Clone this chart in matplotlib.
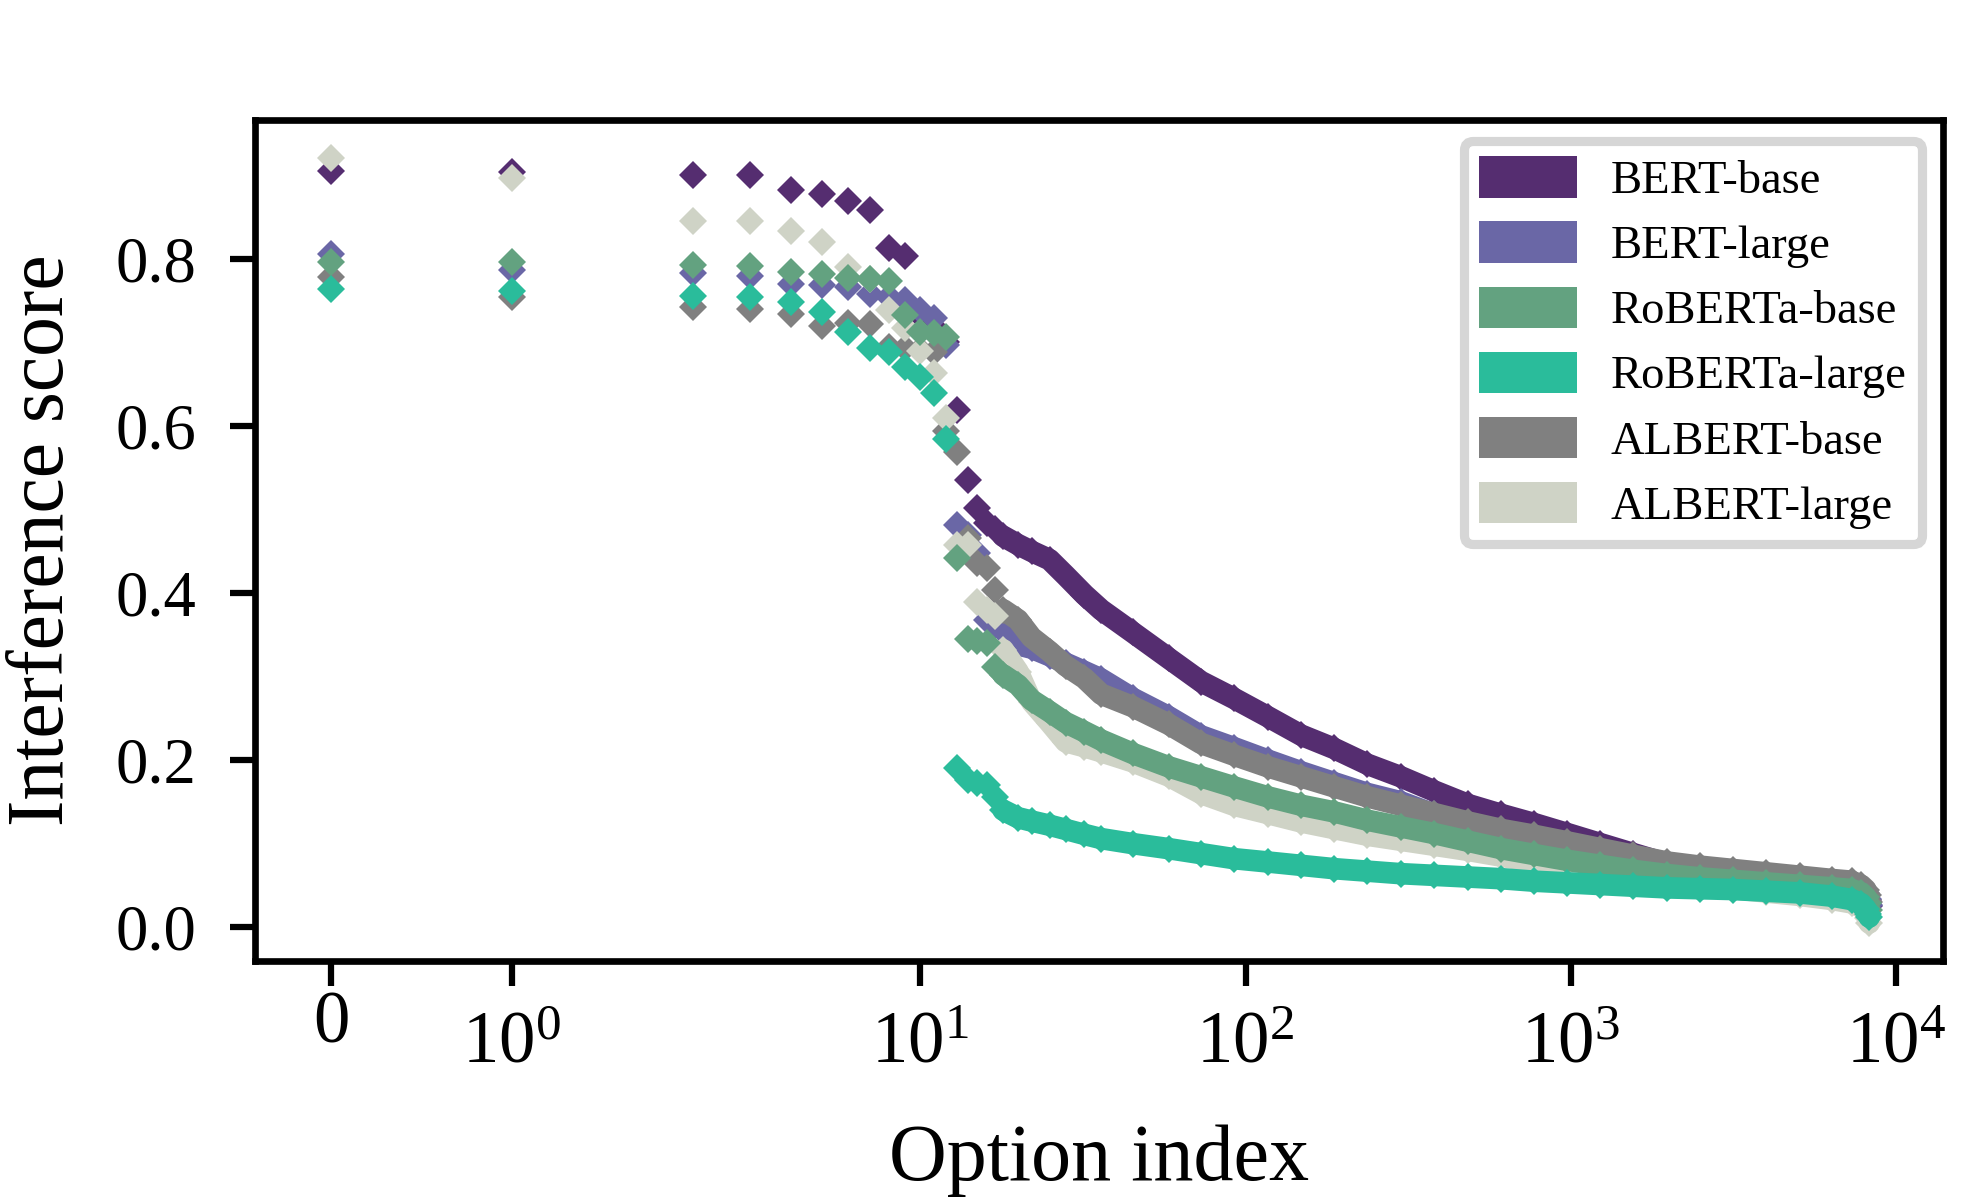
import matplotlib
matplotlib.use('Agg')
import matplotlib.pyplot as plt
from matplotlib.patches import Patch
from matplotlib.ticker import NullLocator, FixedLocator, FixedFormatter
from matplotlib.transforms import ScaledTranslation

plt.rcParams['font.family'] = ['Liberation Serif', 'DejaVu Serif']
plt.rcParams['mathtext.fontset'] = 'stix'

# ---------------- data ----------------
option_index = list(range(19)) + [20, 22, 25, 28, 32, 36, 45, 58, 73, 92, 117, 148, 187,
                                  237, 300, 380, 481, 610, 770, 975, 1230, 1555, 1970,
                                  2490, 3150, 3980, 5040, 6360, 7280, 7800, 8050, 8185, 8250]

models = ['BERT-base', 'BERT-large', 'RoBERTa-base', 'RoBERTa-large', 'ALBERT-base', 'ALBERT-large']
colors = ['#552d70', '#6a67a6', '#63a280', '#2abc9b', '#808080', '#cfd3c6']

bert_base = [0.905, 0.904, 0.900, 0.900, 0.883, 0.878, 0.869, 0.859, 0.813, 0.803,
             0.733, 0.718, 0.700, 0.619, 0.535, 0.502, 0.484, 0.477, 0.468,
             0.458, 0.450, 0.440, 0.421, 0.398, 0.380, 0.353, 0.322, 0.294, 0.274,
             0.252, 0.230, 0.214, 0.195, 0.180, 0.163, 0.147, 0.135, 0.124, 0.112,
             0.100, 0.088, 0.076, 0.070, 0.066, 0.062, 0.058, 0.054, 0.051, 0.046,
             0.040, 0.033, 0.025]
bert_large = [0.806, 0.787, 0.783, 0.780, 0.770, 0.769, 0.767, 0.758, 0.755, 0.751,
              0.739, 0.729, 0.697, 0.481, 0.470, 0.448, 0.368, 0.362, 0.356,
              0.338, 0.334, 0.325, 0.316, 0.306, 0.297, 0.274, 0.252, 0.229, 0.215,
              0.200, 0.186, 0.173, 0.160, 0.150, 0.135, 0.122, 0.112, 0.104, 0.097,
              0.089, 0.082, 0.075, 0.070, 0.066, 0.062, 0.058, 0.054, 0.052, 0.047,
              0.041, 0.034, 0.026]
roberta_base = [0.796, 0.796, 0.793, 0.791, 0.785, 0.782, 0.777, 0.776, 0.774, 0.733,
                0.713, 0.711, 0.707, 0.442, 0.345, 0.342, 0.340, 0.312, 0.302,
                0.290, 0.272, 0.258, 0.245, 0.234, 0.224, 0.208, 0.192, 0.180, 0.168,
                0.156, 0.146, 0.138, 0.128, 0.120, 0.112, 0.103, 0.094, 0.087, 0.080,
                0.074, 0.068, 0.063, 0.059, 0.056, 0.053, 0.050, 0.047, 0.045, 0.041,
                0.036, 0.029, 0.021]
roberta_large = [0.764, 0.762, 0.756, 0.754, 0.748, 0.736, 0.713, 0.693, 0.689, 0.671,
                 0.659, 0.639, 0.584, 0.190, 0.176, 0.172, 0.170, 0.156, 0.140,
                 0.131, 0.127, 0.122, 0.117, 0.111, 0.106, 0.100, 0.094, 0.088, 0.082,
                 0.078, 0.074, 0.070, 0.067, 0.064, 0.062, 0.060, 0.058, 0.055, 0.053,
                 0.051, 0.049, 0.047, 0.046, 0.045, 0.043, 0.041, 0.037, 0.033, 0.028,
                 0.022, 0.016, 0.012]
albert_base = [0.779, 0.754, 0.742, 0.740, 0.734, 0.720, 0.723, 0.722, 0.695, 0.693,
               0.691, 0.689, 0.594, 0.569, 0.466, 0.436, 0.430, 0.404, 0.380,
               0.368, 0.347, 0.330, 0.313, 0.298, 0.279, 0.264, 0.243, 0.220, 0.206,
               0.192, 0.180, 0.168, 0.156, 0.146, 0.136, 0.126, 0.117, 0.110, 0.102,
               0.094, 0.086, 0.078, 0.073, 0.069, 0.065, 0.061, 0.057, 0.055, 0.050,
               0.045, 0.038, 0.030]
albert_large = [0.921, 0.897, 0.845, 0.845, 0.834, 0.820, 0.790, 0.776, 0.739, 0.717,
                0.690, 0.664, 0.609, 0.458, 0.458, 0.389, 0.380, 0.372, 0.332,
                0.306, 0.270, 0.245, 0.222, 0.216, 0.210, 0.198, 0.181, 0.160, 0.146,
                0.136, 0.126, 0.118, 0.110, 0.104, 0.098, 0.092, 0.085, 0.078, 0.072,
                0.066, 0.060, 0.055, 0.050, 0.046, 0.042, 0.038, 0.033, 0.029, 0.024,
                0.018, 0.011, 0.005]

x_ticks = [0, 1, 10, 100, 1000, 10000]
x_tick_labels = [r'$\mathdefault{0}$', r'$\mathdefault{10^{0}}$', r'$\mathdefault{10^{1}}$',
                 r'$\mathdefault{10^{2}}$', r'$\mathdefault{10^{3}}$', r'$\mathdefault{10^{4}}$']
y_ticks = [0.0, 0.2, 0.4, 0.6, 0.8]
y_tick_labels = ['0.0', '0.2', '0.4', '0.6', '0.8']

# ---------------- plot ----------------
series = dict(zip(models, [bert_base, bert_large, roberta_base, roberta_large,
                           albert_base, albert_large]))
color_of = dict(zip(models, colors))
draw_order = ['BERT-base', 'BERT-large', 'ALBERT-base', 'ALBERT-large',
              'RoBERTa-base', 'RoBERTa-large']
band_start = 18

fig = plt.figure(figsize=(6.54, 4.0), dpi=300)
ax = fig.add_axes([0.1300, 0.1992, 0.8603, 0.7008])
ax.set_xscale('symlog', linthresh=2, linscale=1)

for name in draw_order:
    vals = series[name]
    c = color_of[name]
    ax.plot(option_index[band_start:], vals[band_start:], '-', color=c, lw=5.2,
            solid_capstyle='round', solid_joinstyle='round')
    ax.plot(option_index, vals, 'D', color=c, ms=4.9, mew=0, ls='none')

ax.set_xlim(-0.42, 13900)
ax.set_ylim(-0.0405, 0.9664)

ax.xaxis.set_major_locator(FixedLocator(x_ticks))
ax.xaxis.set_major_formatter(FixedFormatter(x_tick_labels))
ax.xaxis.set_minor_locator(NullLocator())
ax.set_yticks(y_ticks)
ax.set_yticklabels(y_tick_labels)

for sp in ax.spines.values():
    sp.set_linewidth(1.6)
    sp.set_color('black')
ax.tick_params(axis='both', direction='out', length=6, width=1.5)
ax.tick_params(axis='y', pad=8, labelsize=15.5)
ax.tick_params(axis='x', pad=5.9, labelsize=17.5)

ax.set_xlabel('Option index', fontsize=19.2, labelpad=11)
ax.set_ylabel('Interference score', fontsize=19.1, labelpad=8.5)

handles = [Patch(facecolor=color_of[m], edgecolor='none', label=m) for m in models]
leg = ax.legend(handles=handles, loc='upper right', fontsize=11.2, handlelength=2.1,
                handleheight=1.0, handletextpad=0.72, labelspacing=0.39,
                borderpad=0.33, borderaxespad=0.45, fancybox=True, framealpha=1,
                edgecolor='#d6d6d6')
leg.get_frame().set_linewidth(2.2)

# the plain "0" label sits higher than the superscripted decade labels
zero_label = ax.xaxis.get_major_ticks()[0].label1
zero_label.set_transform(zero_label.get_transform() +
                         ScaledTranslation(0, 5 / 72, fig.dpi_scale_trans))

fig.savefig('out.png', dpi=300)
